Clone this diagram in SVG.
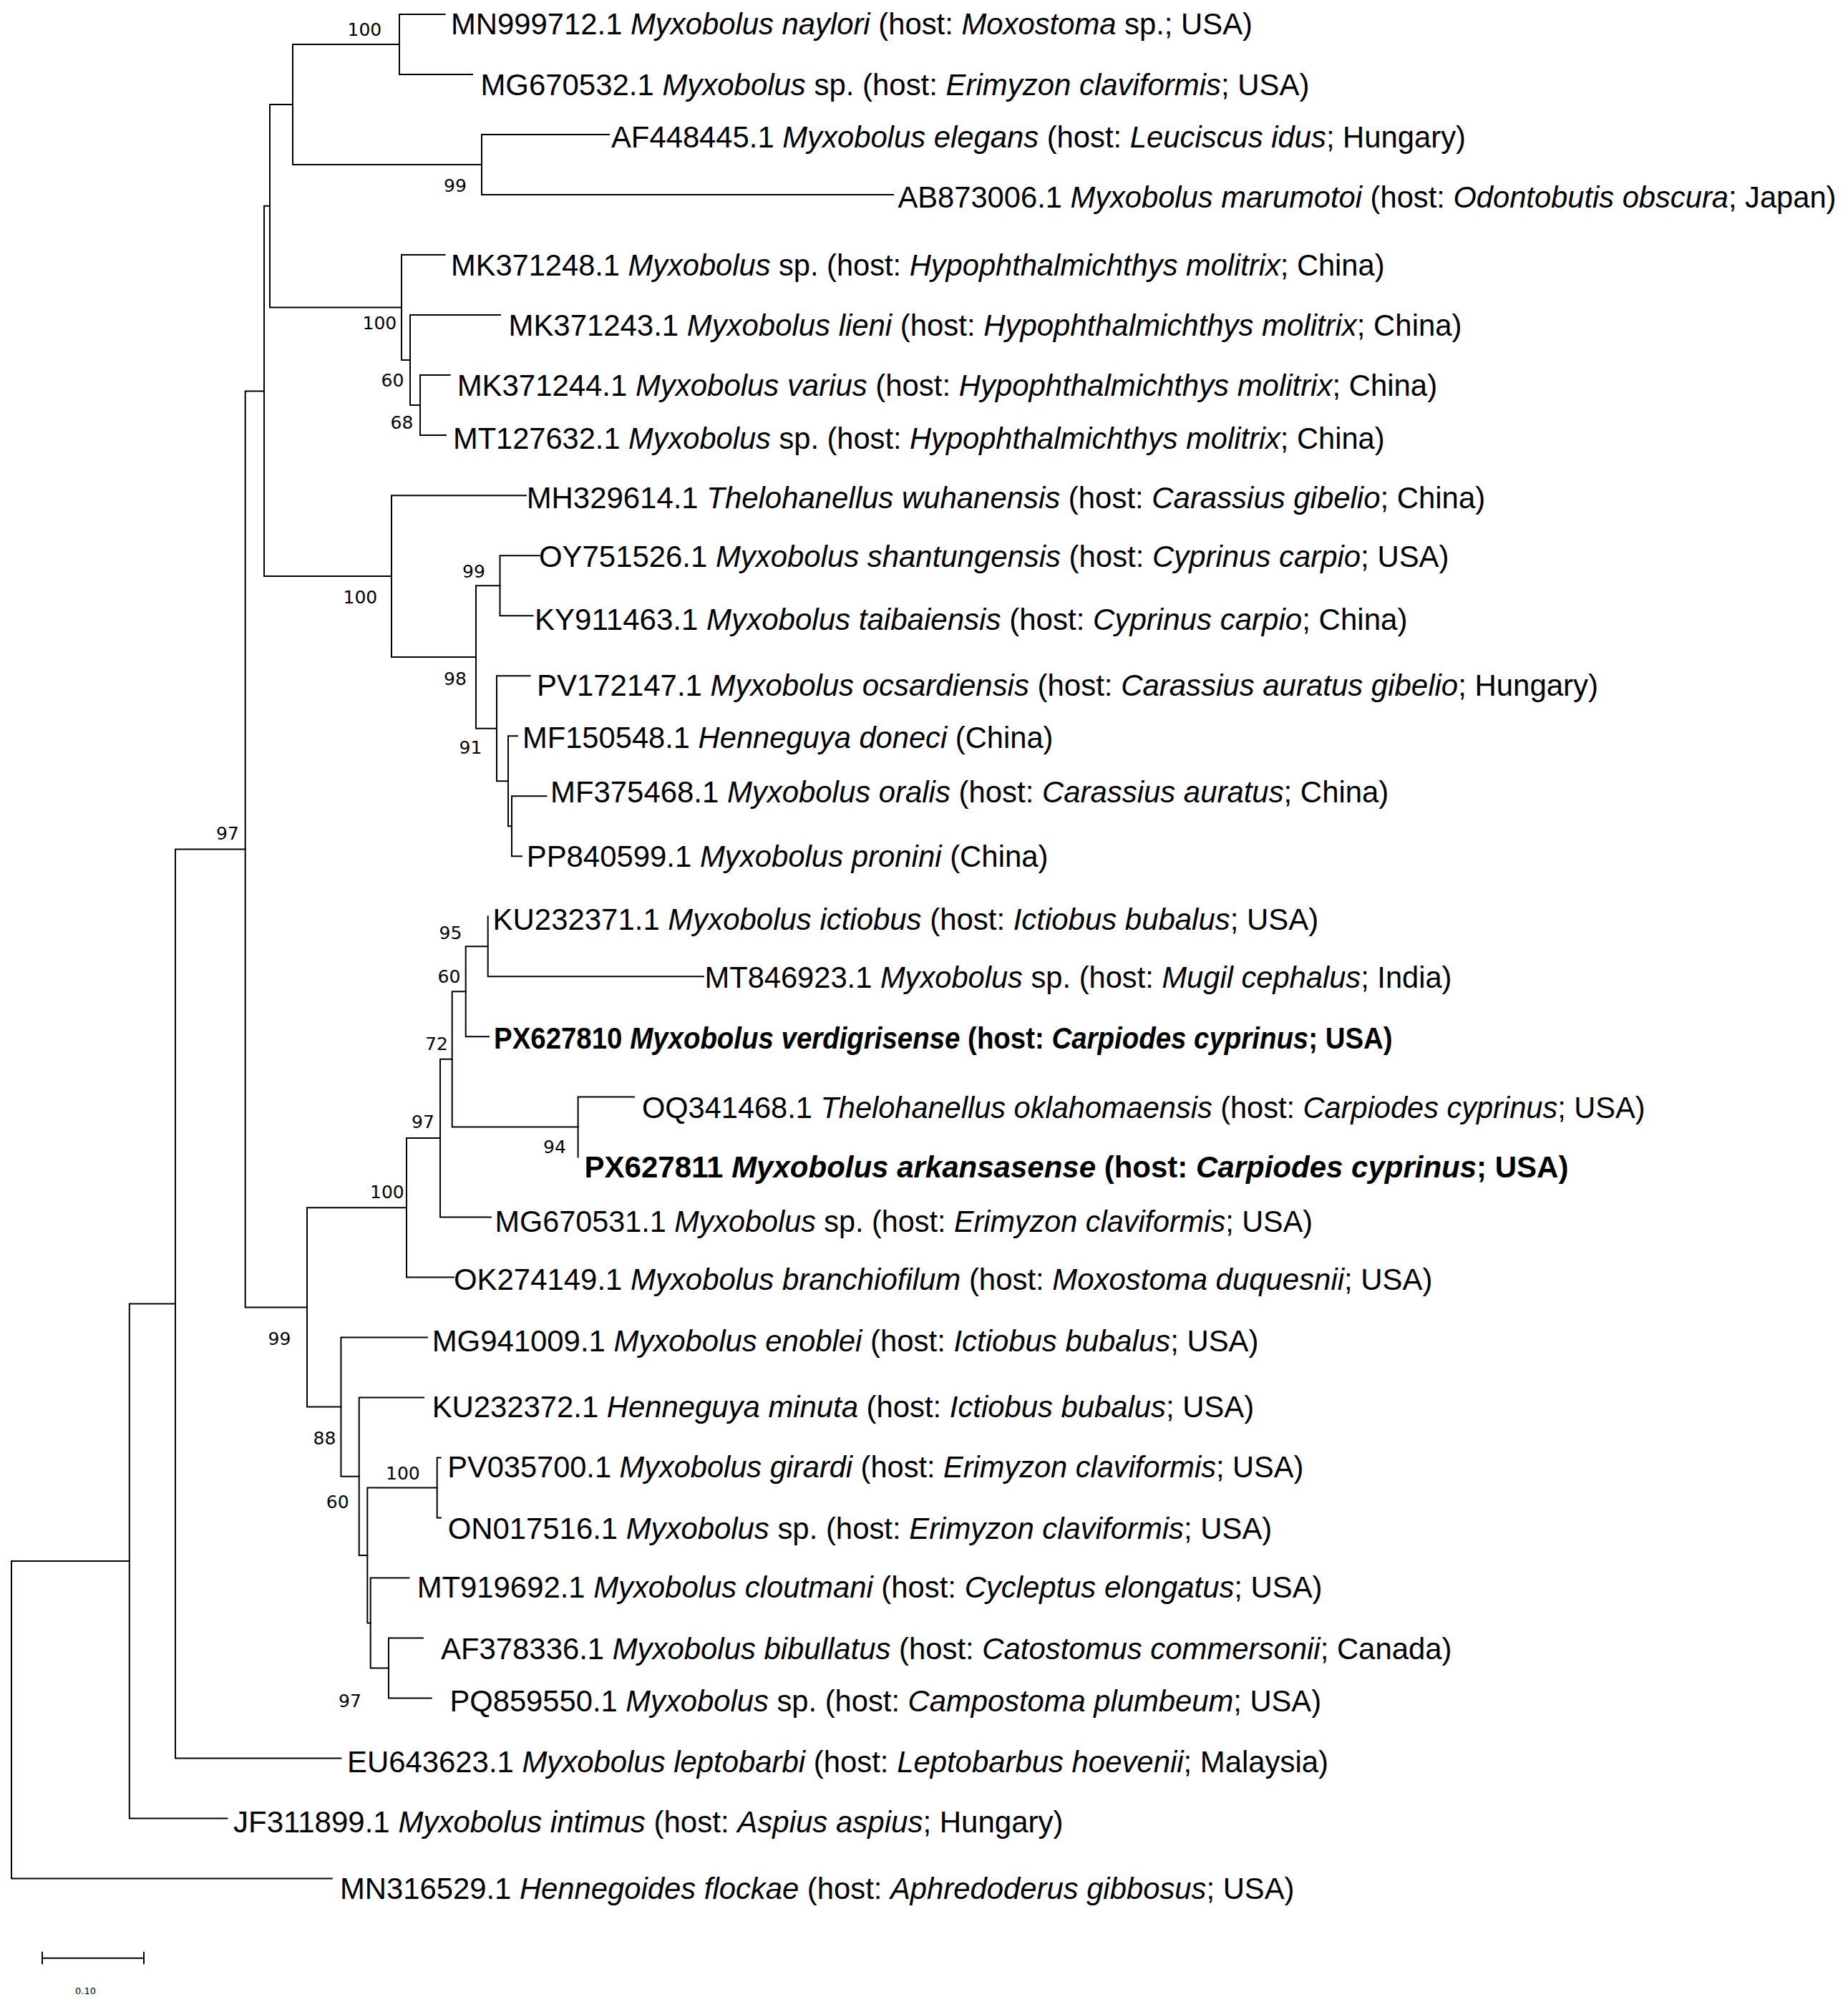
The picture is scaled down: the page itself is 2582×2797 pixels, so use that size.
<svg xmlns="http://www.w3.org/2000/svg" width="2582" height="2797" viewBox="0 0 2582 2797">
<style>
.t{font-family:"Liberation Sans",Arial,sans-serif;font-size:42px;fill:#000}
.b{font-weight:bold}
.i{font-style:italic}
.bs{font-family:"DejaVu Sans",Verdana,sans-serif;font-size:25px;fill:#000}
.sc{font-family:"DejaVu Sans",Verdana,sans-serif;font-size:13px;fill:#000}
.br{stroke:#000;stroke-width:2;fill:none;stroke-linecap:square}
</style>
<rect width="2582" height="2797" fill="#fff"/>
<g id="connectors" class="br">
<path d="M16,2181V2624.6M16,2181H180.8M16,2624.6H463.8"/>
<path d="M180.8,1821.5V2540.6M180.8,1821.5H245M180.8,2540.6H317.4"/>
<path d="M245,1186.4V2456.6M245,1186.4H342.7M245,2456.6H476.4"/>
<path d="M342.7,546.45V1826.4M342.7,546.45H369M342.7,1826.4H429"/>
<path d="M369,287.8V805.1M369,287.8H377M369,805.1H547"/>
<path d="M377,146V429.6M377,146H409M377,429.6H561"/>
<path d="M409,62V230M409,62H558M409,230H673"/>
<path d="M558,20V104M558,20H621.6M558,104H660"/>
<path d="M673,188V272.1M673,188H851M673,272.1H1248"/>
<path d="M561,356.1V503.1M561,356.1H621.6M561,503.1H573"/>
<path d="M573,440.1V566.1M573,440.1H699M573,566.1H587"/>
<path d="M587,524.1V608.1M587,524.1H628.5M587,608.1H623"/>
<path d="M547,692.2V917.95M547,692.2H735M547,917.95H665"/>
<path d="M665,818.2V1017.7M665,818.2H698.5M665,1017.7H694"/>
<path d="M698.5,776.2V860.2M698.5,776.2H753.6M698.5,860.2H744.5"/>
<path d="M694,944.2V1091.25M694,944.2H740.5M694,1091.25H710"/>
<path d="M710,1028.2V1154.3M710,1028.2H723M710,1154.3H715"/>
<path d="M715,1112.3V1196.3M715,1112.3H763.4M715,1196.3H729"/>
<path d="M429,1687.25V1965.6M429,1687.25H568M429,1965.6H476.4"/>
<path d="M568,1590.1V1784.4M568,1590.1H615M568,1784.4H634"/>
<path d="M615,1479.85V1700.4M615,1479.85H631.7M615,1700.4H686"/>
<path d="M631.7,1385.3V1574.4M631.7,1385.3H650.7M631.7,1574.4H807.6"/>
<path d="M650.7,1322.3V1448.3M650.7,1322.3H681.7M650.7,1448.3H683"/>
<path d="M681.7,1280.3V1364.3M681.7,1364.3H983"/>
<path d="M807.6,1532.4V1616.4M807.6,1532.4H886"/>
<path d="M476.4,1868.4V2062.75M476.4,1868.4H597M476.4,2062.75H501.7"/>
<path d="M501.7,1952.5V2173M501.7,1952.5H592M501.7,2173H513.3"/>
<path d="M513.3,2078.5V2267.5M513.3,2078.5H610.7M513.3,2267.5H517.7"/>
<path d="M610.7,2036.5V2120.5M610.7,2036.5H615.7M610.7,2120.5H616"/>
<path d="M517.7,2204.5V2330.55M517.7,2204.5H571.5M517.7,2330.55H543"/>
<path d="M543,2288.5V2372.6M543,2288.5H591M543,2372.6H602.7"/>
</g>
<g id="tips">
<g id="MN999712"><text class="t" x="630" y="48" textLength="1120" lengthAdjust="spacingAndGlyphs">MN999712.1 <tspan class="i">Myxobolus naylori</tspan> (host: <tspan class="i">Moxostoma</tspan> sp.; USA)</text></g>
<g id="MG670532"><text class="t" x="671.4" y="133" textLength="1158" lengthAdjust="spacingAndGlyphs">MG670532.1 <tspan class="i">Myxobolus</tspan> sp. (host: <tspan class="i">Erimyzon claviformis</tspan>; USA)</text></g>
<g id="AF448445"><text class="t" x="854" y="206" textLength="1194" lengthAdjust="spacingAndGlyphs">AF448445.1 <tspan class="i">Myxobolus elegans</tspan> (host: <tspan class="i">Leuciscus idus</tspan>; Hungary)</text></g>
<g id="AB873006"><text class="t" x="1254.5" y="290" textLength="1311" lengthAdjust="spacingAndGlyphs">AB873006.1 <tspan class="i">Myxobolus marumotoi</tspan> (host: <tspan class="i">Odontobutis obscura</tspan>; Japan)</text></g>
<g id="MK371248"><text class="t" x="630" y="385" textLength="1304.5" lengthAdjust="spacingAndGlyphs">MK371248.1 <tspan class="i">Myxobolus</tspan> sp. (host: <tspan class="i">Hypophthalmichthys molitrix</tspan>; China)</text></g>
<g id="MK371243"><text class="t" x="710.5" y="469" textLength="1332" lengthAdjust="spacingAndGlyphs">MK371243.1 <tspan class="i">Myxobolus lieni</tspan> (host: <tspan class="i">Hypophthalmichthys molitrix</tspan>; China)</text></g>
<g id="MK371244"><text class="t" x="638.7" y="553" textLength="1369.4" lengthAdjust="spacingAndGlyphs">MK371244.1 <tspan class="i">Myxobolus varius</tspan> (host: <tspan class="i">Hypophthalmichthys molitrix</tspan>; China)</text></g>
<g id="MT127632"><text class="t" x="633" y="627" textLength="1301.5" lengthAdjust="spacingAndGlyphs">MT127632.1 <tspan class="i">Myxobolus</tspan> sp. (host: <tspan class="i">Hypophthalmichthys molitrix</tspan>; China)</text></g>
<g id="MH329614"><text class="t" x="735.7" y="710" textLength="1339.5" lengthAdjust="spacingAndGlyphs">MH329614.1 <tspan class="i">Thelohanellus wuhanensis</tspan> (host: <tspan class="i">Carassius gibelio</tspan>; China)</text></g>
<g id="OY751526"><text class="t" x="753" y="791.5" textLength="1271.5" lengthAdjust="spacingAndGlyphs">OY751526.1 <tspan class="i">Myxobolus shantungensis</tspan> (host: <tspan class="i">Cyprinus carpio</tspan>; USA)</text></g>
<g id="KY911463"><text class="t" x="747" y="879.5" textLength="1219.5" lengthAdjust="spacingAndGlyphs">KY911463.1 <tspan class="i">Myxobolus taibaiensis</tspan> (host: <tspan class="i">Cyprinus carpio</tspan>; China)</text></g>
<g id="PV172147"><text class="t" x="750" y="972" textLength="1483" lengthAdjust="spacingAndGlyphs">PV172147.1 <tspan class="i">Myxobolus ocsardiensis</tspan> (host: <tspan class="i">Carassius auratus gibelio</tspan>; Hungary)</text></g>
<g id="MF150548"><text class="t" x="730" y="1044.6" textLength="741.5" lengthAdjust="spacingAndGlyphs">MF150548.1 <tspan class="i">Henneguya doneci</tspan> (China)</text></g>
<g id="MF375468"><text class="t" x="769" y="1120.5" textLength="1171.3" lengthAdjust="spacingAndGlyphs">MF375468.1 <tspan class="i">Myxobolus oralis</tspan> (host: <tspan class="i">Carassius auratus</tspan>; China)</text></g>
<g id="PP840599"><text class="t" x="735.7" y="1211" textLength="728.8" lengthAdjust="spacingAndGlyphs">PP840599.1 <tspan class="i">Myxobolus pronini</tspan> (China)</text></g>
<g id="KU232371"><text class="t" x="688.6" y="1299.3" textLength="1153.6" lengthAdjust="spacingAndGlyphs">KU232371.1 <tspan class="i">Myxobolus ictiobus</tspan> (host: <tspan class="i">Ictiobus bubalus</tspan>; USA)</text></g>
<g id="MT846923"><text class="t" x="984.5" y="1380" textLength="1044" lengthAdjust="spacingAndGlyphs">MT846923.1 <tspan class="i">Myxobolus</tspan> sp. (host: <tspan class="i">Mugil cephalus</tspan>; India)</text></g>
<g id="PX627810"><text class="t b" transform="translate(690,1465) scale(0.915,1)" x="0" y="0">PX627810 <tspan class="i">Myxobolus verdigrisense</tspan> (host: <tspan class="i">Carpiodes cyprinus</tspan>; USA)</text></g>
<g id="OQ341468"><text class="t" x="897" y="1561.7" textLength="1401.5" lengthAdjust="spacingAndGlyphs">OQ341468.1 <tspan class="i">Thelohanellus oklahomaensis</tspan> (host: <tspan class="i">Carpiodes cyprinus</tspan>; USA)</text></g>
<g id="PX627811"><text class="t b" x="816.6" y="1645">PX627811 <tspan class="i">Myxobolus arkansasense</tspan> (host: <tspan class="i">Carpiodes cyprinus</tspan>; USA)</text></g>
<g id="MG670531"><text class="t" x="691.5" y="1721" textLength="1142.5" lengthAdjust="spacingAndGlyphs">MG670531.1 <tspan class="i">Myxobolus</tspan> sp. (host: <tspan class="i">Erimyzon claviformis</tspan>; USA)</text></g>
<g id="OK274149"><text class="t" x="634" y="1802" textLength="1367.5" lengthAdjust="spacingAndGlyphs">OK274149.1 <tspan class="i">Myxobolus branchiofilum</tspan> (host: <tspan class="i">Moxostoma duquesnii</tspan>; USA)</text></g>
<g id="MG941009"><text class="t" x="603.7" y="1887.5" textLength="1154.8" lengthAdjust="spacingAndGlyphs">MG941009.1 <tspan class="i">Myxobolus enoblei</tspan> (host: <tspan class="i">Ictiobus bubalus</tspan>; USA)</text></g>
<g id="KU232372"><text class="t" x="603.7" y="1980" textLength="1148.5" lengthAdjust="spacingAndGlyphs">KU232372.1 <tspan class="i">Henneguya minuta</tspan> (host: <tspan class="i">Ictiobus bubalus</tspan>; USA)</text></g>
<g id="PV035700"><text class="t" x="625.3" y="2064" textLength="1196" lengthAdjust="spacingAndGlyphs">PV035700.1 <tspan class="i">Myxobolus girardi</tspan> (host: <tspan class="i">Erimyzon claviformis</tspan>; USA)</text></g>
<g id="ON017516"><text class="t" x="625.7" y="2150" textLength="1151.6" lengthAdjust="spacingAndGlyphs">ON017516.1 <tspan class="i">Myxobolus</tspan> sp. (host: <tspan class="i">Erimyzon claviformis</tspan>; USA)</text></g>
<g id="MT919692"><text class="t" x="582.7" y="2231.7" textLength="1264.8" lengthAdjust="spacingAndGlyphs">MT919692.1 <tspan class="i">Myxobolus cloutmani</tspan> (host: <tspan class="i">Cycleptus elongatus</tspan>; USA)</text></g>
<g id="AF378336"><text class="t" x="616" y="2318" textLength="1412.5" lengthAdjust="spacingAndGlyphs">AF378336.1 <tspan class="i">Myxobolus bibullatus</tspan> (host: <tspan class="i">Catostomus commersonii</tspan>; Canada)</text></g>
<g id="PQ859550"><text class="t" x="628.4" y="2391" textLength="1217.7" lengthAdjust="spacingAndGlyphs">PQ859550.1 <tspan class="i">Myxobolus</tspan> sp. (host: <tspan class="i">Campostoma plumbeum</tspan>; USA)</text></g>
<g id="EU643623"><text class="t" x="485" y="2475.6" textLength="1371" lengthAdjust="spacingAndGlyphs">EU643623.1 <tspan class="i">Myxobolus leptobarbi</tspan> (host: <tspan class="i">Leptobarbus hoevenii</tspan>; Malaysia)</text></g>
<g id="JF311899"><text class="t" x="326" y="2560" textLength="1159.5" lengthAdjust="spacingAndGlyphs">JF311899.1 <tspan class="i">Myxobolus intimus</tspan> (host: <tspan class="i">Aspius aspius</tspan>; Hungary)</text></g>
<g id="MN316529"><text class="t" x="475" y="2653.4" textLength="1333.5" lengthAdjust="spacingAndGlyphs">MN316529.1 <tspan class="i">Hennegoides flockae</tspan> (host: <tspan class="i">Aphredoderus gibbosus</tspan>; USA)</text></g>
</g>
<g id="bootstrap" class="bs">
<g id="bs-A"><text x="485.5" y="50">100</text></g>
<g id="bs-B"><text x="620" y="268">99</text></g>
<g id="bs-F"><text x="506.5" y="460">100</text></g>
<g id="bs-G"><text x="532.5" y="540">60</text></g>
<g id="bs-H"><text x="545.5" y="599">68</text></g>
<g id="bs-J"><text x="479.5" y="843">100</text></g>
<g id="bs-L"><text x="646" y="807">99</text></g>
<g id="bs-K"><text x="620" y="957">98</text></g>
<g id="bs-N"><text x="641.5" y="1053">91</text></g>
<g id="bs-I"><text x="302" y="1173">97</text></g>
<g id="bs-S"><text x="613.5" y="1311.7">95</text></g>
<g id="bs-T"><text x="611.5" y="1373">60</text></g>
<g id="bs-U"><text x="594" y="1466.7">72</text></g>
<g id="bs-V"><text x="575" y="1576">97</text></g>
<g id="bs-W"><text x="759" y="1611">94</text></g>
<g id="bs-X"><text x="517" y="1674">100</text></g>
<g id="bs-Y"><text x="374.5" y="1879">99</text></g>
<g id="bs-Z"><text x="437.5" y="2018">88</text></g>
<g id="bs-AC"><text x="539" y="2067">100</text></g>
<g id="bs-AB"><text x="455.8" y="2107">60</text></g>
<g id="bs-AE"><text x="473" y="2385">97</text></g>
</g>
<g id="scale-bar">
<path class="br" d="M59,2735.7H201M59,2727.7V2743.2M201,2727.7V2743.2"/>
<text class="sc" x="105" y="2786">0.10</text>
</g>
</svg>
